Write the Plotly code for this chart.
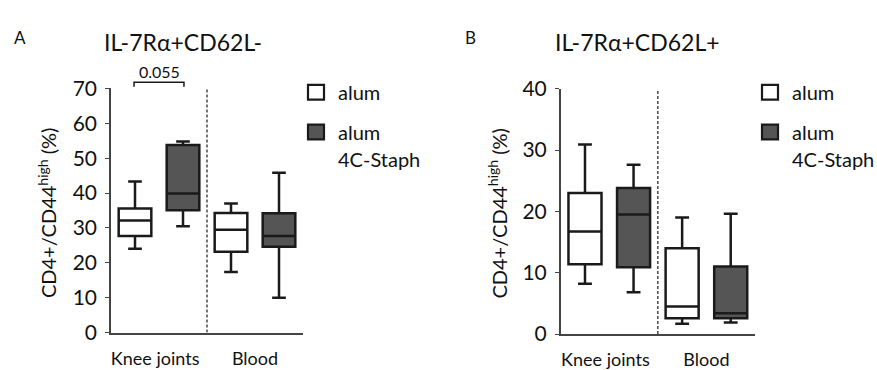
import plotly.graph_objects as go

# ---------------- data ----------------
groups = ["Knee joints", "Blood"]

# Panel A: IL-7Rα+CD62L-
A_alum_low = [24.0, 17.4]
A_alum_q1 = [27.7, 23.2]
A_alum_med = [32.1, 29.5]
A_alum_q3 = [35.6, 34.3]
A_alum_high = [43.3, 37.0]

A_staph_low = [30.5, 10.0]
A_staph_q1 = [35.1, 24.6]
A_staph_med = [39.9, 27.7]
A_staph_q3 = [53.8, 34.2]
A_staph_high = [54.8, 45.8]

# Panel B: IL-7Rα+CD62L+
B_alum_low = [8.2, 1.7]
B_alum_q1 = [11.4, 2.6]
B_alum_med = [16.7, 4.5]
B_alum_q3 = [23.0, 14.0]
B_alum_high = [30.9, 19.0]

B_staph_low = [6.8, 1.9]
B_staph_q1 = [10.9, 2.6]
B_staph_med = [19.5, 3.4]
B_staph_q3 = [23.8, 11.0]
B_staph_high = [27.6, 19.6]

p_value = "0.055"
titles = ["IL-7Rα+CD62L-", "IL-7Rα+CD62L+"]
panel_letters = ["A", "B"]
legend_labels = ["alum", "alum", "4C-Staph"]
y_title = "CD4+/CD44<sup>high</sup> (%)"
A_ymax, B_ymax = 70, 40

# ---------------- style ----------------
W, H = 877, 370
FONT = "Lato"
TXT = "#111111"
LINE = "#1a1a1a"
DARK = "#555555"
alum_pos = [0.5, 2.5]
staph_pos = [1.5, 3.5]
tick_pos = [0.92, 3.0]


def px_x(p):
    return p / W


def px_y(p):
    return 1 - p / H


fig = go.Figure()


def add_box(xaxis, yaxis, pos, low, q1, med, q3, high, fill):
    fig.add_trace(go.Box(
        x=pos, q1=q1, median=med, q3=q3, lowerfence=low, upperfence=high,
        orientation="v", width=0.68, whiskerwidth=0.42,
        fillcolor=fill, line=dict(color=LINE, width=2.5),
        boxpoints=False, xaxis=xaxis, yaxis=yaxis, showlegend=False, hoverinfo="skip",
    ))


add_box("x", "y", alum_pos, A_alum_low, A_alum_q1, A_alum_med, A_alum_q3, A_alum_high, "white")
add_box("x", "y", staph_pos, A_staph_low, A_staph_q1, A_staph_med, A_staph_q3, A_staph_high, DARK)
add_box("x2", "y2", alum_pos, B_alum_low, B_alum_q1, B_alum_med, B_alum_q3, B_alum_high, "white")
add_box("x2", "y2", staph_pos, B_staph_low, B_staph_q1, B_staph_med, B_staph_q3, B_staph_high, DARK)

xcommon = dict(range=[0, 4], showgrid=False, zeroline=False, showline=True,
               linecolor="#444", linewidth=1.5, ticks="", tickvals=tick_pos,
               ticktext=groups, tickfont=dict(size=18, color=TXT, family=FONT),
               fixedrange=True, ticklabelstandoff=9)
ycommon = dict(showgrid=False, zeroline=False, showline=True, linecolor="#444",
               linewidth=1.5, ticks="outside", ticklen=4, tickcolor="#444",
               tickwidth=1.2, tickfont=dict(size=21, color=TXT, family=FONT),
               ticklabelstandoff=4, fixedrange=True)

fig.update_layout(
    width=W, height=H, margin=dict(l=0, r=0, t=0, b=0),
    paper_bgcolor="white", plot_bgcolor="white", showlegend=False,
    boxmode="overlay", font=dict(family=FONT, color=TXT),
    xaxis=dict(domain=[px_x(111), px_x(303)], anchor="y", **xcommon),
    yaxis=dict(domain=[px_y(345.7), px_y(80.7)], anchor="x", range=[0, A_ymax], dtick=10, **ycommon),
    xaxis2=dict(domain=[px_x(560.7), px_x(755)], anchor="y2", **xcommon),
    yaxis2=dict(domain=[px_y(347.3), px_y(81)], anchor="x2", range=[0, B_ymax], dtick=10, **ycommon),
)

shapes = []
# dashed separators between groups
shapes.append(dict(type="line", xref="x", yref="y", x0=2, x1=2, y0=0, y1=A_ymax,
                   line=dict(color=LINE, width=1.2, dash="3px,2px")))
shapes.append(dict(type="line", xref="x2", yref="y2", x0=2, x1=2, y0=0, y1=B_ymax,
                   line=dict(color=LINE, width=1.2, dash="3px,2px")))
# significance bracket over knee joints
shapes.append(dict(type="path", xref="x", yref="paper",
                   path=f"M {alum_pos[0]-0.02},{px_y(79)} L {alum_pos[0]-0.02},{px_y(74)} "
                        f"L {staph_pos[0]+0.02},{px_y(74)} L {staph_pos[0]+0.02},{px_y(79)}",
                   line=dict(color=LINE, width=1.5)))

annotations = []
# legends
for lx, tx in [(308, 336), (762, 790)]:
    shapes.append(dict(type="rect", xref="paper", yref="paper",
                       x0=px_x(lx), x1=px_x(lx + 16), y0=px_y(93), y1=px_y(77),
                       fillcolor="white", line=dict(color=LINE, width=2.2)))
    shapes.append(dict(type="rect", xref="paper", yref="paper",
                       x0=px_x(lx), x1=px_x(lx + 16), y0=px_y(136), y1=px_y(120),
                       fillcolor=DARK, line=dict(color=LINE, width=2.2)))
    for lab, yy in zip(legend_labels, [85, 128, 157]):
        annotations.append(dict(text=lab, xref="paper", yref="paper", x=px_x(tx), y=px_y(yy),
                                xanchor="left", yanchor="middle", showarrow=False,
                                font=dict(size=20, color=TXT, family=FONT)))

# titles and panel letters
for lx, cx, ttl, let in [(20, 183, titles[0], panel_letters[0]), (470, 637, titles[1], panel_letters[1])]:
    annotations.append(dict(text=let, xref="paper", yref="paper", x=px_x(lx), y=px_y(25),
                            xanchor="center", yanchor="middle", showarrow=False,
                            font=dict(size=17, color=TXT, family=FONT)))
    annotations.append(dict(text=ttl, xref="paper", yref="paper", x=px_x(cx), y=px_y(30),
                            xanchor="center", yanchor="middle", showarrow=False,
                            font=dict(size=23, color=TXT, family=FONT)))

# y axis titles
for cx in [47, 497.5]:
    annotations.append(dict(text=y_title, xref="paper", yref="paper", x=px_x(cx), y=px_y(216),
                            xanchor="center", yanchor="middle", textangle=-90, showarrow=False,
                            font=dict(size=20, color=TXT, family=FONT)))

# p value
annotations.append(dict(text=p_value, xref="x", yref="paper", x=(alum_pos[0] + staph_pos[0]) / 2,
                        y=px_y(62), xanchor="center", yanchor="middle", showarrow=False,
                        font=dict(size=16, color=TXT, family=FONT)))

fig.update_layout(shapes=shapes, annotations=annotations)
fig.write_html("out.html", config={"displayModeBar": False},
               post_script="document.body.style.margin='0';document.body.style.overflow='hidden';")
